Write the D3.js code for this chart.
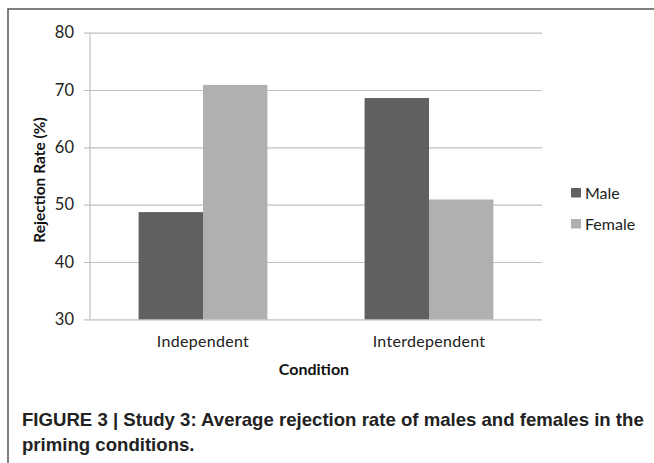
<!DOCTYPE html>
<html><head><meta charset="utf-8">
<script src="https://cdn.jsdelivr.net/npm/d3@7"></script>
<style>body{margin:0;background:#fff}svg{display:block}</style>
</head><body>
<script>
const categories = ["Independent", "Interdependent"];
const seriesNames = ["Male", "Female"];
const maleValues = [48.7, 68.6];
const femaleValues = [70.9, 50.9];
const yTicks = [30, 40, 50, 60, 70, 80];
const colors = {Male: "#606060", Female: "#b0b0b0"};

const W = 654, H = 463;
const font = "Lato, 'Open Sans', sans-serif";
const svg = d3.select("body").append("svg").attr("width", W).attr("height", H);

// frame
svg.append("path").attr("d", `M8,463 L8,9 L654,9`).attr("fill","none").attr("stroke","#555").attr("stroke-width",1.5);

const plot = {left: 90, right: 542, top: 32.7, bottom: 319.3};
const x0 = d3.scaleBand().domain(categories).range([plot.left, plot.right]).paddingInner(0.43).paddingOuter(0.215);
const x1 = d3.scaleBand().domain(seriesNames).range([0, x0.bandwidth()]);
const y = d3.scaleLinear().domain([30, 80]).range([plot.bottom, plot.top]);

// gridlines + ticks
const gy = svg.append("g").attr("transform", `translate(${plot.right},0)`);
gy.call(d3.axisLeft(y).tickValues(yTicks).tickSize(plot.right - plot.left + 6).tickPadding(10).tickFormat(d3.format("d")));
gy.select(".domain").remove();
gy.selectAll(".tick line").attr("stroke", "#c0c0c0").attr("stroke-width", 1.2);
gy.selectAll(".tick text").attr("font-family", font).attr("font-size", 16.5).attr("fill", "#222");

// y axis line
svg.append("line").attr("x1", plot.left).attr("x2", plot.left).attr("y1", plot.top).attr("y2", plot.bottom).attr("stroke", "#c0c0c0").attr("stroke-width", 1.2);

// bars
const data = categories.map((c, i) => ({cat: c, vals: [{s: "Male", v: maleValues[i]}, {s: "Female", v: femaleValues[i]}]}));
const groups = svg.append("g").selectAll("g").data(data).join("g").attr("transform", d => `translate(${x0(d.cat)},0)`);
groups.selectAll("rect").data(d => d.vals).join("rect")
  .attr("x", d => x1(d.s)).attr("width", x1.bandwidth())
  .attr("y", d => y(d.v)).attr("height", d => y(30) - y(d.v))
  .attr("fill", d => colors[d.s]);

// x axis labels
const gx = svg.append("g").attr("transform", `translate(0,${plot.bottom})`);
gx.call(d3.axisBottom(x0).tickSize(0).tickPadding(16));
gx.select(".domain").remove();
gx.selectAll(".tick text").attr("font-family", font).attr("font-size", 16).attr("fill", "#222").attr("letter-spacing", 0.3);

// axis titles
svg.append("text").attr("x", 314).attr("y", 375).attr("text-anchor", "middle")
  .attr("font-family", font).attr("font-weight", "bold").attr("font-size", 16).attr("fill", "#111").text("Condition");
svg.append("text").attr("transform", "translate(45,180) rotate(-90)").attr("text-anchor", "middle")
  .attr("font-family", font).attr("font-weight", "bold").attr("font-size", 15.5).attr("fill", "#111").text("Rejection Rate (%)");

// legend
const leg = svg.append("g").selectAll("g").data(seriesNames).join("g").attr("transform", (d, i) => `translate(571,${188 + i * 31})`);
leg.append("rect").attr("width", 10).attr("height", 9.5).attr("fill", d => colors[d]);
leg.append("text").attr("x", 14).attr("y", 10.5).attr("font-family", font).attr("font-size", 16).attr("fill", "#222").text(d => d);

// caption
const cap = svg.append("text").attr("font-family", "'Liberation Sans', Arial, sans-serif").attr("font-weight", "bold").attr("font-size", 18.6).attr("fill", "#222");
cap.append("tspan").attr("x", 22).attr("y", 426).text("FIGURE 3 | Study 3: Average rejection rate of males and females in the");
cap.append("tspan").attr("x", 22).attr("y", 451).text("priming conditions.");
</script>
</body></html>
